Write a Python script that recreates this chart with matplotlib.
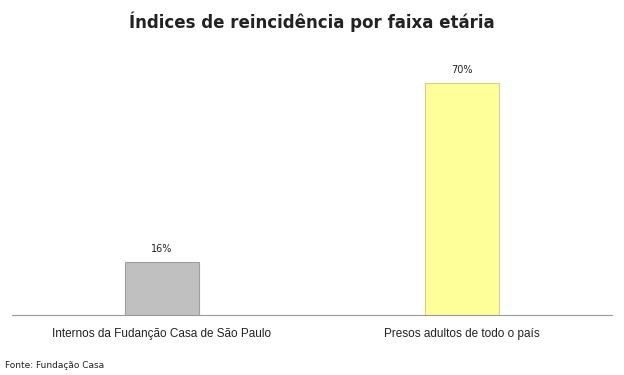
import matplotlib.pyplot as plt

categories = ['Internos da Fudanção Casa de São Paulo', 'Presos adultos de todo o país']
values = [16, 70]
labels = ['16%', '70%']
colors = ['#c0c0c0', '#ffff99']
edges = ['#a0a0a0', '#d0d090']

fig = plt.figure(figsize=(6.24, 3.75), dpi=100)
ax = fig.add_axes([12 / 624, 60 / 375, 600 / 624, 265 / 375])

x = range(len(categories))
bars = ax.bar(x, values, width=0.245, color=colors, edgecolor=edges, linewidth=0.8)
for b, lab in zip(bars, labels):
    ax.annotate(lab, (b.get_x() + b.get_width() / 2, b.get_height()),
                xytext=(0, 6), textcoords='offset points',
                ha='center', va='bottom', fontsize=7, color='#222222')

ax.set_xlim(-0.5, 1.5)
ax.set_ylim(0, 80)
ax.set_xticks(list(x))
ax.set_xticklabels(categories, fontsize=8.5, color='#222222', family='Liberation Sans')
ax.tick_params(axis='x', length=0, pad=9)
ax.set_yticks([])
for s in ['top', 'right', 'left']:
    ax.spines[s].set_visible(False)
ax.spines['bottom'].set_color('#999999')

fig.text(0.5, 1 - 22 / 375, 'Índices de reincidência por faixa etária',
         ha='center', va='center', fontsize=12, fontweight='bold', color='#222222')
fig.text(5 / 624, 1 - 366 / 375, 'Fonte: Fundação Casa', ha='left', va='center',
         fontsize=6.5, color='#222222')

fig.savefig('out.png', dpi=100)
